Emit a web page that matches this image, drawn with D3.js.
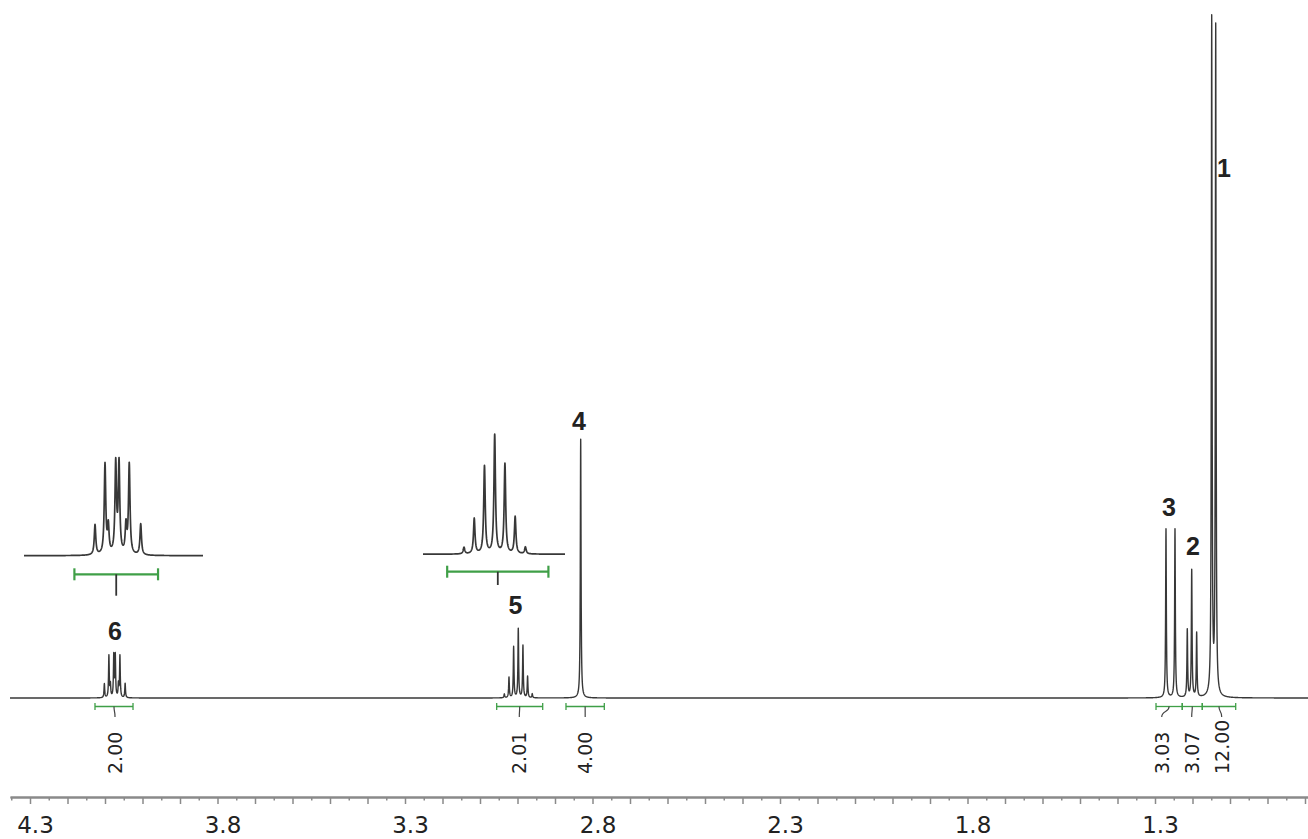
<!DOCTYPE html>
<html><head><meta charset="utf-8">
<script src="https://cdn.jsdelivr.net/npm/d3@7"></script>
<style>
html,body{margin:0;padding:0;background:#fff;}
svg{display:block;}
</style></head><body>
<svg id="chart" width="1308" height="839"></svg>
<script>
// ---------------- data ----------------
// line positions (ppm) and heights (0-100 scale, 100 ~ tallest line)
const peak1Ppm = [1.1488, 1.1381];
const peak1Int = [99.0, 97.8];
const peak2Ppm = [1.2139, 1.2021, 1.1889];
const peak2Int = [9.9, 18.6, 9.4];
const peak3Ppm = [1.2707, 1.2467];
const peak3Int = [24.7, 24.7];
const peak4Ppm = [2.8315];
const peak4Int = [37.9];
const peak5Ppm = [3.0351, 3.0227, 3.0103, 2.9979, 2.9855, 2.9731, 2.9607];
const peak5Int = [0.56, 3.0, 7.45, 10.1, 7.65, 3.15, 0.59];
const peak6Ppm = [4.1017, 4.0896, 4.0856, 4.0766, 4.0726, 4.0642, 4.0602, 4.0463];
const peak6Int = [2.04, 6.12, 1.84, 6.12, 6.12, 1.90, 6.12, 2.11];
const lineHalfWidthPpm = 0.0011;

const peakNames = ["1", "2", "3", "4", "5", "6"];

const integralFrom = [1.1739, 1.2273, 1.2973, 2.8707, 3.0555, 4.1267];
const integralTo   = [1.0848, 1.1739, 1.2273, 2.7685, 2.9328, 4.0253];
const integralValues = ["12.00", "3.07", "3.03", "4.00", "2.01", "2.00"];
const integralLabelPpm = [1.1221, 1.2021, 1.2821, 2.8195, 2.9952, 4.0733];

const tickLabels = ["4.3", "3.8", "3.3", "2.8", "2.3", "1.8", "1.3"];

// inset windows (ppm) for multiplets 6 and 5
const inset6Window = [4.1878, 3.9708];
const inset5Window = [3.0848, 2.9127];

// ---------------- layout ----------------
const W = 1308, H = 839;
const svg = d3.select("#chart");
const x = d3.scaleLinear().domain([4.3 + 20 / 375, 4.3 - 1278 / 375]).range([10, 1308]);
const y = d3.scaleLinear().domain([0, 100]).range([698, 15]);

const GREEN = "#3f9f47";
const LINE = "#383838";

const allLines = [];
[[peak1Ppm, peak1Int], [peak2Ppm, peak2Int], [peak3Ppm, peak3Int],
 [peak4Ppm, peak4Int], [peak5Ppm, peak5Int], [peak6Ppm, peak6Int]]
  .forEach(([p, h]) => p.forEach((v, i) => allLines.push({ ppm: v, h: h[i] })));

function spectrum(ppm) {
  let s = 0;
  for (const L of allLines) {
    const d = (ppm - L.ppm) / lineHalfWidthPpm;
    s += L.h / (1 + d * d);
  }
  return s;
}

function samplePoints(xs, pxStep) {
  const [a, b] = xs.domain();
  const n = Math.ceil(Math.abs(xs(b) - xs(a)) / pxStep);
  const pts = [];
  for (let i = 0; i <= n; i++) pts.push(a + (b - a) * i / n);
  const lo = Math.min(a, b), hi = Math.max(a, b);
  allLines.forEach(L => {
    [-2, -1, -0.5, -0.25, 0, 0.25, 0.5, 1, 2].forEach(k => {
      const v = L.ppm + k * lineHalfWidthPpm;
      if (v > lo && v < hi) pts.push(v);
    });
  });
  pts.sort((p, q) => q - p);
  return pts;
}

// main spectrum
const mainLine = d3.line().x(d => x(d)).y(d => y(spectrum(d)));
svg.append("path")
  .attr("d", mainLine(samplePoints(x, 0.25)))
  .attr("fill", "none").attr("stroke", LINE).attr("stroke-width", 1.4)
  .attr("stroke-linejoin", "round");

// insets
function drawInset(win, x0, x1, baseY, pxPerUnit, intIndex, barY, capH, tickEnd) {
  const xs = d3.scaleLinear().domain(win).range([x0, x1]);
  const ys = d3.scaleLinear().domain([0, 10]).range([baseY, baseY - 10 * pxPerUnit]);
  const ln = d3.line().x(d => xs(d)).y(d => ys(spectrum(d)));
  svg.append("path")
    .attr("d", ln(samplePoints(xs, 0.2)))
    .attr("fill", "none").attr("stroke", LINE).attr("stroke-width", 1.7)
    .attr("stroke-linejoin", "round");
  const a = xs(integralFrom[intIndex]), b = xs(integralTo[intIndex]);
  const c = xs((integralFrom[intIndex] + integralTo[intIndex]) / 2);
  const g = svg.append("g").attr("stroke", GREEN).attr("stroke-width", 2.2);
  g.append("line").attr("x1", a).attr("x2", b).attr("y1", barY).attr("y2", barY);
  g.append("line").attr("x1", a).attr("x2", a).attr("y1", barY - capH).attr("y2", barY + capH);
  g.append("line").attr("x1", b).attr("x2", b).attr("y1", barY - capH).attr("y2", barY + capH);
  svg.append("line").attr("x1", c).attr("x2", c).attr("y1", barY).attr("y2", tickEnd)
    .attr("stroke", "#333").attr("stroke-width", 1.8);
}
drawInset(inset6Window, 24, 203, 555.7, 14.7, 5, 574.3, 6, 595.7);
drawInset(inset5Window, 423, 565, 554.3, 11.74, 4, 571.7, 6, 585);

// main integrals
const BAR_Y = 706.5;
const ig = svg.append("g");
integralFrom.forEach((f, i) => {
  const a = x(f), b = x(integralTo[i]);
  const c = x((f + integralTo[i]) / 2);
  const lx = x(integralLabelPpm[i]);
  const g = ig.append("g").attr("stroke", GREEN).attr("stroke-width", 1.3);
  g.append("line").attr("x1", a).attr("x2", b).attr("y1", BAR_Y).attr("y2", BAR_Y);
  g.append("line").attr("x1", a).attr("x2", a).attr("y1", BAR_Y - 3.5).attr("y2", BAR_Y + 3.5);
  g.append("line").attr("x1", b).attr("x2", b).attr("y1", BAR_Y - 3.5).attr("y2", BAR_Y + 3.5);
  ig.append("path")
    .attr("d", `M${c},${BAR_Y} C${c},${BAR_Y + 6} ${lx},${BAR_Y + 4} ${lx},${BAR_Y + 10.5}`)
    .attr("fill", "none").attr("stroke", "#444").attr("stroke-width", 1.2);
  ig.append("text")
    .attr("transform", `translate(${lx},774) rotate(-90)`)
    .attr("text-anchor", "start").attr("dominant-baseline", "central")
    .attr("font-family", "DejaVu Sans").attr("font-size", 19).attr("fill", "#222")
    .text(integralValues[i]);
});

// peak labels
const peakLabelPos = [[1224, 177], [1193, 555], [1169, 516], [579, 430], [515.5, 614], [115, 640]];
peakNames.forEach((n, i) => {
  svg.append("text")
    .attr("x", peakLabelPos[i][0]).attr("y", peakLabelPos[i][1])
    .attr("text-anchor", "middle")
    .attr("font-family", "Liberation Sans, Arial, sans-serif").attr("font-weight", "bold")
    .attr("font-size", 25).attr("fill", "#222")
    .text(n);
});

// axis
const AXIS_Y = 797;
const majorTicks = d3.range(43, 8, -1).map(v => v / 10);
const minorTicks = d3.range(435, 85, -10).map(v => v / 100);
const minorAxis = d3.axisBottom(x).tickValues(minorTicks).tickSize(3.5).tickSizeOuter(0).tickFormat("");
const majorAxis = d3.axisBottom(x).tickValues(majorTicks).tickSize(7).tickSizeOuter(0)
  .tickFormat(d => tickLabels.includes(d.toFixed(1)) ? d.toFixed(1) : "");
const gMinor = svg.append("g").attr("transform", `translate(0,${AXIS_Y})`).call(minorAxis);
const gMajor = svg.append("g").attr("transform", `translate(0,${AXIS_Y})`).call(majorAxis);
[gMinor, gMajor].forEach(g => {
  g.selectAll("line").attr("stroke", "#8a8a8a").attr("stroke-width", 1.5);
  g.select(".domain").attr("stroke", "#8a8a8a").attr("stroke-width", 2);
});
gMajor.selectAll("text")
  .attr("y", 36).attr("dy", 0).attr("dx", 5)
  .attr("font-family", "DejaVu Sans").attr("font-size", 23).attr("fill", "#222");
</script>
</body></html>
